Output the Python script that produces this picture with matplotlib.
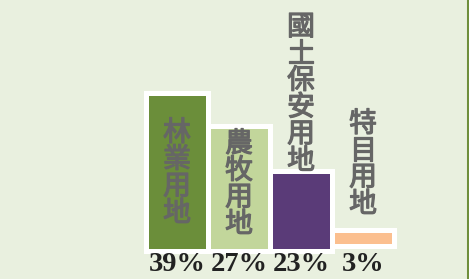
import matplotlib
matplotlib.use("Agg")
import matplotlib.pyplot as plt
from matplotlib.lines import Line2D
import matplotlib.patheffects as pe

# ---- data ----
categories = ["林業用地", "農牧用地", "國土保安用地", "特目用地"]
pct_labels = ["39%", "27%", "23%", "3%"]
bar_heights = [158, 125, 80, 16]      # bar heights as drawn (arbitrary units)
bar_bottoms = [0, 0, 0, 5]
colors = ["#6B8E3A", "#C2D69B", "#5A3B78", "#FBBF8F"]

# label centres (layout)
label_y = [78, 67, 157, 87]

W, H = 469, 279
fig = plt.figure(figsize=(W / 100, H / 100), dpi=100)
fig.patch.set_facecolor("#E9F0DF")
ax = fig.add_axes([0, 0, 1, 1])
ax.set_facecolor("#E9F0DF")

x = list(range(len(categories)))
ax.bar(x, bar_heights, bottom=bar_bottoms, width=1.0, color=colors,
       edgecolor="white", linewidth=3.6, zorder=2)

txt_col = "#666666"
for i, (cat, pct) in enumerate(zip(categories, pct_labels)):
    ax.text(i, label_y[i], "\n".join(cat), ha="center", va="center",
            fontsize=20, color=txt_col, linespacing=0.86,
            family=["Noto Sans CJK TC", "DejaVu Sans"], zorder=3,
            path_effects=[pe.withStroke(linewidth=0.9, foreground=txt_col)])
    ax.text(i, -13.5, pct, ha="center", va="center", fontsize=20.5,
            fontweight="bold", color="#222222", family="Liberation Serif",
            zorder=3)

px_per_bar = 62
cx0 = 177
ax.set_xlim(-cx0 / px_per_bar, (W - cx0) / px_per_bar)
ax.set_ylim(-28, 251)
ax.axis("off")

fig.add_artist(Line2D([467.5 / W, 467.5 / W], [0, 1], transform=fig.transFigure,
                      color="#6F8F3C", linewidth=2.2))

fig.savefig("out.png", dpi=100, facecolor=fig.get_facecolor())
